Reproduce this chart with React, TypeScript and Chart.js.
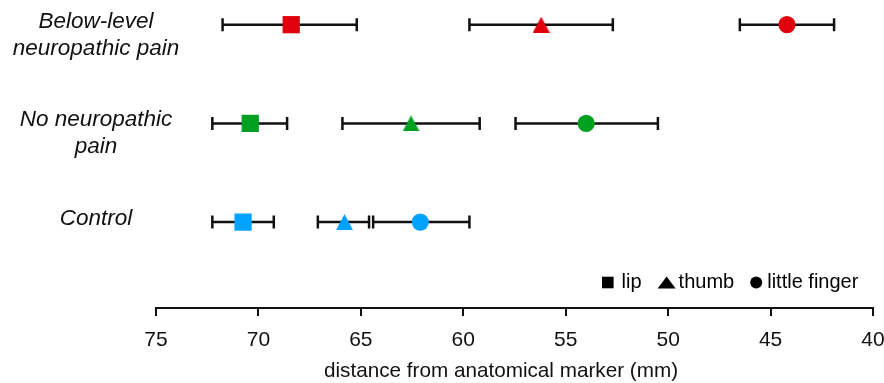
import { useEffect, useRef } from 'react';
import { Chart, registerables } from 'chart.js';

Chart.register(...registerables);

// ---- data ----
const groupLabels = [['Below-level', 'neuropathic pain'], ['No neuropathic', 'pain'], ['Control']];
const groupRows = [3, 2, 1];
const groupColors = ['#E0000E', '#00A020', '#00A2FF'];

const markerNames = ['lip', 'thumb', 'little finger'];

const lipMean = [68.4, 70.4, 70.75];
const lipLow = [65.2, 68.6, 69.25];
const lipHigh = [71.75, 72.25, 72.25];

const thumbMean = [56.2, 62.55, 65.8];
const thumbLow = [52.7, 59.2, 64.6];
const thumbHigh = [59.7, 65.9, 67.1];

const fingerMean = [44.2, 54.0, 62.1];
const fingerLow = [41.9, 50.5, 59.7];
const fingerHigh = [46.5, 57.45, 64.4];

const xMin = 40;
const xMax = 75;
const xStep = 5;
const xTitle = 'distance from anatomical marker (mm)';

const FONT = '"Liberation Sans", Arial, sans-serif';

function triangleImage(color: string, w = 17, h = 16) {
  const c = document.createElement('canvas');
  c.width = w;
  c.height = h;
  const ctx = c.getContext('2d')!;
  ctx.fillStyle = color;
  ctx.beginPath();
  ctx.moveTo(w / 2, 0);
  ctx.lineTo(w, h);
  ctx.lineTo(0, h);
  ctx.closePath();
  ctx.fill();
  return c;
}

function buildPoints(mean: number[], low: number[], high: number[]) {
  return mean.map((m, i) => ({ x: m, y: groupRows[i], lo: low[i], hi: high[i] }));
}

const errorBarPlugin = {
  id: 'errorBars',
  beforeDatasetsDraw(chart: any) {
    const { ctx, scales } = chart;
    const xs = scales.x;
    const ys = scales.y;
    ctx.save();
    ctx.strokeStyle = '#111';
    ctx.lineWidth = 2.5;
    const cap = 6.5;
    chart.data.datasets.forEach((ds: any) => {
      ds.data.forEach((p: any) => {
        const yp = ys.getPixelForValue(p.y);
        const x1 = xs.getPixelForValue(p.lo);
        const x2 = xs.getPixelForValue(p.hi);
        ctx.beginPath();
        ctx.moveTo(x1, yp);
        ctx.lineTo(x2, yp);
        ctx.moveTo(x1, yp - cap);
        ctx.lineTo(x1, yp + cap);
        ctx.moveTo(x2, yp - cap);
        ctx.lineTo(x2, yp + cap);
        ctx.stroke();
      });
    });
    ctx.restore();
  },
};

const annotationsPlugin = {
  id: 'annotations',
  afterDraw(chart: any) {
    const { ctx, chartArea, scales } = chart;
    const ys = scales.y;
    ctx.save();
    // group labels
    ctx.fillStyle = '#111';
    ctx.font = `italic 22.5px ${FONT}`;
    ctx.textAlign = 'center';
    ctx.textBaseline = 'alphabetic';
    const labelX = chartArea.left - 60;
    groupLabels.forEach((lines, i) => {
      const yp = ys.getPixelForValue(groupRows[i]);
      lines.forEach((line, j) => {
        ctx.fillText(line, labelX, yp + 3 + j * 27);
      });
    });

    // axis title
    ctx.font = `20.7px ${FONT}`;
    ctx.textBaseline = 'middle';
    ctx.fillText(xTitle, chartArea.left + 345, chart.height - 12);

    // legend
    ctx.font = `20px ${FONT}`;
    ctx.textAlign = 'left';
    ctx.textBaseline = 'alphabetic';
    ctx.fillStyle = '#000';
    const cy = chartArea.bottom - 25.5;
    const baseY = chartArea.bottom - 20;
    let x = chartArea.left + 446;
    const markerW = [11.6, 18, 12];
    const markerGap = [8, 3, 5];
    markerNames.forEach((name, i) => {
      const w = markerW[i];
      ctx.beginPath();
      if (i === 0) {
        ctx.rect(x, cy - w / 2, w, w);
      } else if (i === 1) {
        ctx.moveTo(x + w / 2, cy - 6);
        ctx.lineTo(x + w, cy + 6);
        ctx.lineTo(x, cy + 6);
        ctx.closePath();
      } else {
        ctx.arc(x + w / 2, cy, w / 2, 0, Math.PI * 2);
      }
      ctx.fill();
      x += w + markerGap[i];
      ctx.fillText(name, x, baseY);
      x += ctx.measureText(name).width + 16;
    });
    ctx.restore();
  },
};

export default function App() {
  const ref = useRef<HTMLCanvasElement>(null);

  useEffect(() => {
    if (!ref.current) return;
    const chart = new Chart(ref.current, {
      type: 'scatter',
      data: {
        datasets: [
          {
            label: markerNames[0],
            data: buildPoints(lipMean, lipLow, lipHigh),
            pointStyle: 'rect',
            pointRadius: 12.2,
            pointBorderWidth: 0,
            backgroundColor: groupColors,
            borderColor: groupColors,
          },
          {
            label: markerNames[1],
            data: buildPoints(thumbMean, thumbLow, thumbHigh),
            pointStyle: groupColors.map((c) => triangleImage(c)),
            pointRadius: 9,
            pointBorderWidth: 0,
            backgroundColor: groupColors,
            borderColor: groupColors,
          },
          {
            label: markerNames[2],
            data: buildPoints(fingerMean, fingerLow, fingerHigh),
            pointStyle: 'circle',
            pointRadius: 8.6,
            pointBorderWidth: 0,
            backgroundColor: groupColors,
            borderColor: groupColors,
          },
        ] as any,
      },
      options: {
        responsive: false,
        animation: false,
        layout: { autoPadding: false, padding: { left: 156, right: 11, top: 0, bottom: 0 } },
        plugins: { legend: { display: false }, tooltip: { enabled: false } },
        scales: {
          x: {
            type: 'linear',
            min: xMin,
            max: xMax,
            reverse: true,
            ticks: {
              stepSize: xStep,
              color: '#111',
              font: { family: FONT, size: 21 },
              padding: 12,
              maxRotation: 0,
            },
            grid: {
              drawOnChartArea: false,
              drawTicks: true,
              tickLength: 8,
              color: '#111',
              lineWidth: 2,
            },
            border: { display: true, color: '#111', width: 2 },
            afterFit: (scale: any) => {
              scale.height = 75;
              scale.paddingLeft = 0;
              scale.paddingRight = 0;
            },
          },
          y: {
            type: 'linear',
            display: false,
            min: 0.13,
            max: 3.25,
            afterFit: (scale: any) => {
              scale.paddingTop = 0;
              scale.paddingBottom = 0;
            },
          },
        },
      },
      plugins: [errorBarPlugin, annotationsPlugin],
    });
    return () => chart.destroy();
  }, []);

  return (
    <div style={{ position: 'absolute', left: 0, top: 0, width: 884, height: 383, background: '#fff' }}>
      <canvas ref={ref} width={884} height={383} style={{ display: 'block' }} />
    </div>
  );
}
